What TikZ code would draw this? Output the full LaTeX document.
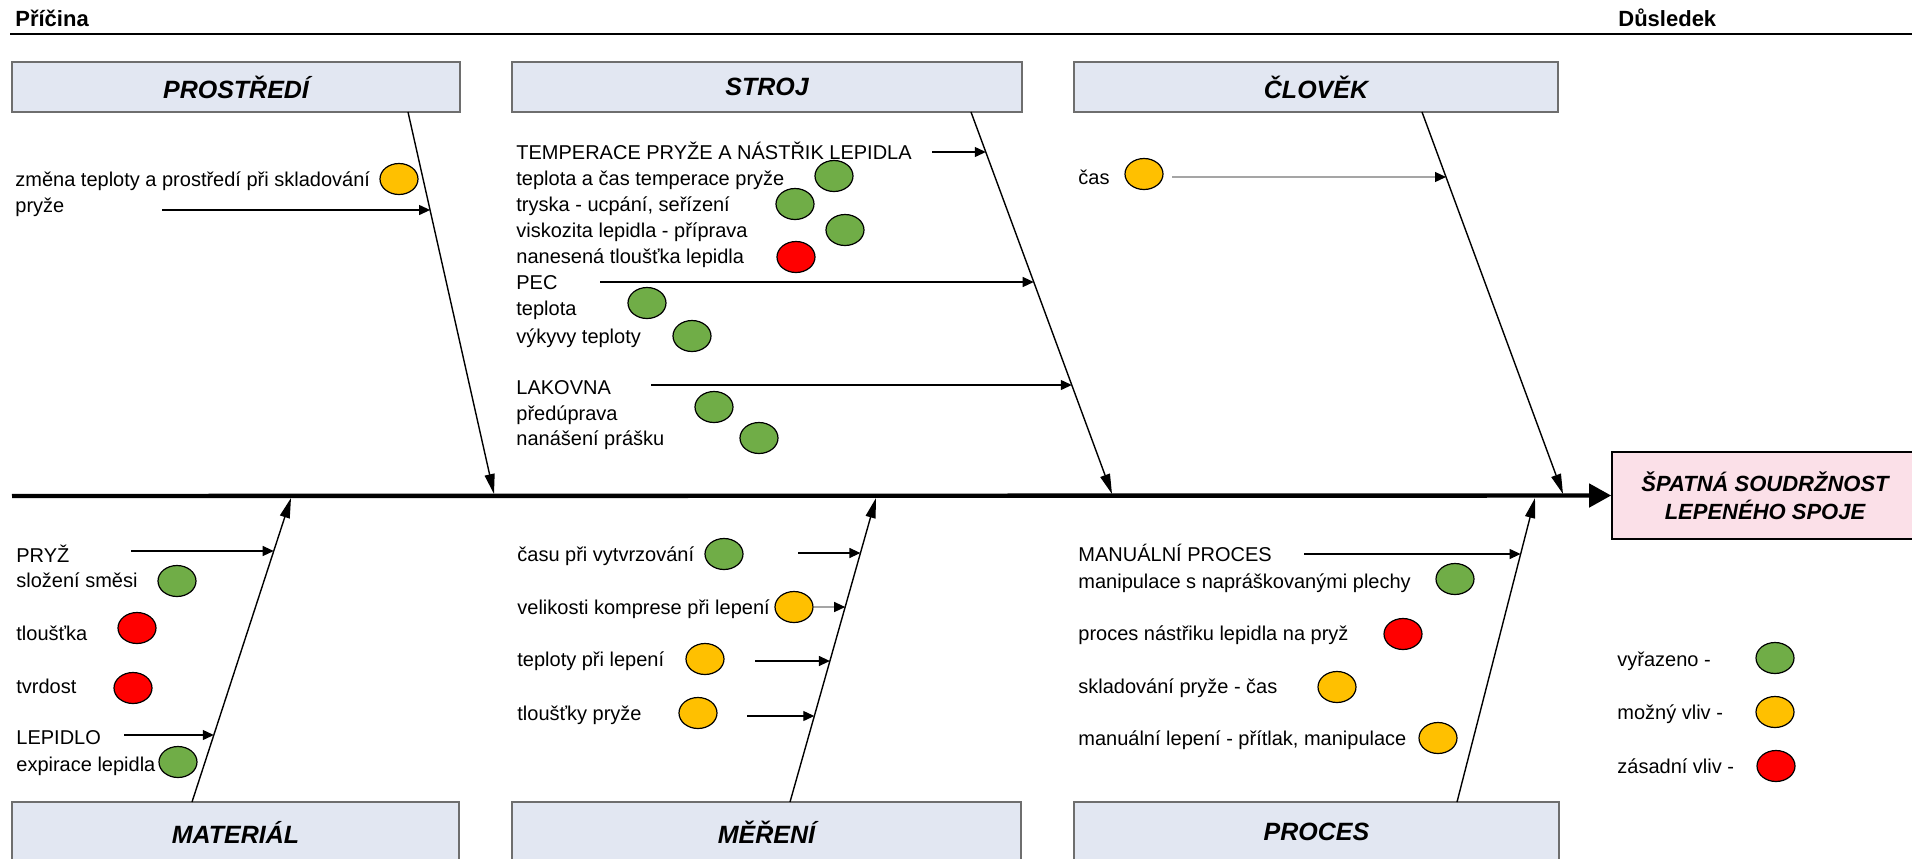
\documentclass[tikz,border=0pt]{standalone}
\usepackage{fontspec}
\setmainfont{Liberation Sans}
\usetikzlibrary{arrows.meta, calc, shapes.geometric}
\definecolor{boxcol}{RGB}{226, 231, 242}
\definecolor{effcol}{RGB}{251, 224, 232}
\definecolor{greencol}{RGB}{112, 173, 71}
\definecolor{yellowcol}{RGB}{255, 192, 0}
\definecolor{redcol}{RGB}{255, 0, 0}
\definecolor{linecol}{RGB}{0, 0, 0}
\definecolor{greycol}{RGB}{165, 165, 165}
\definecolor{edgecol}{RGB}{110, 110, 110}
\tikzset{
  item/.style  = {anchor=west, inner sep=0pt, text height=7pt, text depth=0pt,
                  font=\fontsize{10}{12}\selectfont},
  head/.style  = {item, font=\bfseries\fontsize{11}{13}\selectfont},
  cat/.style   = {draw=edgecol, line width=0.6pt, fill=boxcol, inner sep=0pt,
                  font=\bfseries\itshape\fontsize{12.5}{15}\selectfont},
  effbox/.style = {draw=linecol, line width=0.8pt, fill=effcol, inner sep=0pt,
                   align=center,
                   font=\bfseries\itshape\fontsize{11}{14}\selectfont},
  % the three marks, same size everywhere
  dot/.style   = {ellipse, draw=linecol, line width=0.6pt, inner sep=0pt,
                  minimum width=19pt, minimum height=15.5pt},
  okdot/.style  = {dot, fill=greencol},
  maydot/.style = {dot, fill=yellowcol},
  keydot/.style = {dot, fill=redcol},
  sub/.style   = {-{Triangle[length=5.5pt, width=5pt]}, draw=linecol,
                  line width=0.6pt},
  subgrey/.style = {-{Triangle[length=5.5pt, width=5pt, linecol]},
                    draw=greycol, line width=0.6pt},
  bone/.style  = {-{Triangle[length=10pt, width=5pt]}, draw=linecol,
                  line width=0.7pt},
  spine/.style = {-{Triangle[length=11pt, width=11.5pt]}, draw=linecol,
                  line width=2.2pt},
}

\begin{document}
\begin{tikzpicture}[x=0.5pt, y=-0.5pt]

  \useasboundingbox (0,0) rectangle (1912,858);
  \clip (0,0) rectangle (1912,858);

  %% ---------------- header ----------------
  \node[head] (cause) at (15,19) {Příčina};
  \node[head] (result) at (1618,19) {Důsledek};
  \coordinate (ruleL) at (10,34);
  \coordinate (ruleR) at (1912,34);
  \draw[draw=linecol, line width=1.1pt] (ruleL) -- (ruleR);

  %% ---------------- the six categories ----------------
  \node[cat, minimum width=224pt, minimum height=25pt] (env) at (236,87) {PROSTŘEDÍ};
  \node[cat, minimum width=255pt, minimum height=25pt] (mach) at (767,87) {STROJ};
  \node[cat, minimum width=242pt, minimum height=25pt] (man) at (1316,87) {ČLOVĚK};
  \node[cat, minimum width=223.5pt, minimum height=30pt] (mat) at (235.5,832) {MATERIÁL};
  \node[cat, minimum width=254.5pt, minimum height=30pt] (meas) at (766.5,832) {MĚŘENÍ};
  \node[cat, minimum width=242.5pt, minimum height=30pt] (proc) at (1316.5,832) {PROCES};

  %% ---------------- spine and effect ----------------
  \node[effbox, minimum width=153pt, minimum height=43.5pt] (effect)
       at (1765,495.5) {ŠPATNÁ SOUDRŽNOST\\LEPENÉHO SPOJE};
  \coordinate (spineL) at (12,496);
  \draw[spine] (spineL) -- (effect.west);

  %% ---------------- bones ----------------
  \coordinate (envA) at (408,112);   \coordinate (envB) at (494,494);
  \coordinate (machA) at (971,112);  \coordinate (machB) at (1112,494);
  \coordinate (manA) at (1422,112);  \coordinate (manB) at (1563,494);
  \coordinate (matA) at (192,802);   \coordinate (matB) at (291,498);
  \coordinate (measA) at (790,802);  \coordinate (measB) at (876,498);
  \coordinate (procA) at (1457,802); \coordinate (procB) at (1535,498);
  \draw[bone] (envA) -- (envB);
  \draw[bone] (machA) -- (machB);
  \draw[bone] (manA) -- (manB);
  \draw[bone] (matA) -- (matB);
  \draw[bone] (measA) -- (measB);
  \draw[bone] (procA) -- (procB);

  %% ---------------- prostredi ----------------
  \node[item] (env1) at (15,179) {změna teploty a prostředí při skladování};
  \node[maydot] (env1d) at (399,179) {};
  \node[item] (env2) at (15,205) {pryže};
  \coordinate (env2s) at (162,210); \coordinate (env2e) at (430.1,210);
  \draw[sub] (env2s) -- (env2e);

  %% ---------------- stroj ----------------
  \node[item] (mach0) at (516,152) {TEMPERACE PRYŽE A NÁSTŘIK LEPIDLA};
  \node[item] (mach1) at (516,178) {teplota a čas temperace pryže};
  \node[okdot] (mach1d) at (834,176) {};
  \node[item] (mach2) at (516,204) {tryska - ucpání, seřízení};
  \node[okdot] (mach2d) at (795,204) {};
  \node[item] (mach3) at (516,230) {viskozita lepidla - příprava};
  \node[okdot] (mach3d) at (845,230) {};
  \node[item] (mach4) at (516,256) {nanesená tloušťka lepidla};
  \node[keydot] (mach4d) at (796,257) {};
  \node[item] (oven) at (516,282) {PEC};
  \node[item] (oven1) at (516,308) {teplota};
  \node[okdot] (oven1d) at (647,303) {};
  \node[item] (oven2) at (516,336) {výkyvy teploty};
  \node[okdot] (oven2d) at (692,336) {};
  \node[item] (paint) at (516,387) {LAKOVNA};
  \node[item] (paint1) at (516,413) {předúprava};
  \node[okdot] (paint1d) at (714,407) {};
  \node[item] (paint2) at (516,438) {nanášení prášku};
  \node[okdot] (paint2d) at (759,438) {};
  \coordinate (mach0s) at (932,152); \coordinate (mach0e) at (985.8,152);
  \coordinate (ovens) at (600,282);  \coordinate (ovene) at (1033.7,282);
  \coordinate (paints) at (651,385); \coordinate (painte) at (1071.8,385);
  \draw[sub] (mach0s) -- (mach0e);
  \draw[sub] (ovens) -- (ovene);
  \draw[sub] (paints) -- (painte);

  %% ---------------- clovek ----------------
  \node[item] (man1) at (1078,177) {čas};
  \node[maydot] (man1d) at (1144,174) {};
  \coordinate (man1s) at (1172,177); \coordinate (man1e) at (1446,177);
  \draw[subgrey] (man1s) -- (man1e);

  %% ---------------- material ----------------
  \node[item] (rub) at (16,555) {PRYŽ};
  \node[item] (rub1) at (16,580) {složení směsi};
  \node[okdot] (rub1d) at (177,581) {};
  \node[item] (rub2) at (16,633) {tloušťka};
  \node[keydot] (rub2d) at (137,628) {};
  \node[item] (rub3) at (16,686) {tvrdost};
  \node[keydot] (rub3d) at (133,688) {};
  \node[item] (glue) at (16,737) {LEPIDLO};
  \node[item] (glue1) at (16,764) {expirace lepidla};
  \node[okdot] (glue1d) at (178,762) {};
  \coordinate (rubs) at (131,551);  \coordinate (rube) at (273.7,551);
  \coordinate (glues) at (124,735); \coordinate (gluee) at (213.8,735);
  \draw[sub] (rubs) -- (rube);
  \draw[sub] (glues) -- (gluee);

  %% ---------------- mereni ----------------
  \node[item] (meas1) at (517,554) {času při vytvrzování};
  \node[okdot] (meas1d) at (724,554) {};
  \node[item] (meas2) at (517,607) {velikosti komprese při lepení};
  \node[maydot] (meas2d) at (794,607) {};
  \node[item] (meas3) at (517,659) {teploty při lepení};
  \node[maydot] (meas3d) at (705,659) {};
  \node[item] (meas4) at (517,713) {tloušťky pryže};
  \node[maydot] (meas4d) at (698,713) {};
  \coordinate (meas1s) at (798,553); \coordinate (meas1e) at (860.4,553);
  \coordinate (meas2e) at (845.2,607);
  \coordinate (meas3s) at (755,661); \coordinate (meas3e) at (829.9,661);
  \coordinate (meas4s) at (747,716); \coordinate (meas4e) at (814.3,716);
  \draw[sub] (meas1s) -- (meas1e);
  \draw[subgrey] (meas2d.east) -- (meas2e);
  \draw[sub] (meas3s) -- (meas3e);
  \draw[sub] (meas4s) -- (meas4e);

  %% ---------------- proces ----------------
  \node[item] (hand) at (1078,554) {MANUÁLNÍ PROCES};
  \node[item] (hand1) at (1078,581) {manipulace s napráškovanými plechy};
  \node[okdot] (hand1d) at (1455,579) {};
  \node[item] (hand2) at (1078,633) {proces nástřiku lepidla na pryž};
  \node[keydot] (hand2d) at (1403,634) {};
  \node[item] (hand3) at (1078,686) {skladování pryže - čas};
  \node[maydot] (hand3d) at (1337,687) {};
  \node[item] (hand4) at (1078,738) {manuální lepení - přítlak, manipulace};
  \node[maydot] (hand4d) at (1438,738) {};
  \coordinate (hands) at (1304,554); \coordinate (hande) at (1520.6,554);
  \draw[sub] (hands) -- (hande);

  %% ---------------- legend ----------------
  \node[item] (leg1) at (1617,659) {vyřazeno -};
  \node[okdot] (leg1d) at (1775,658) {};
  \node[item] (leg2) at (1617,712) {možný vliv -};
  \node[maydot] (leg2d) at (1775,712) {};
  \node[item] (leg3) at (1617,766) {zásadní vliv -};
  \node[keydot] (leg3d) at (1776,766) {};

\end{tikzpicture}
\end{document}
